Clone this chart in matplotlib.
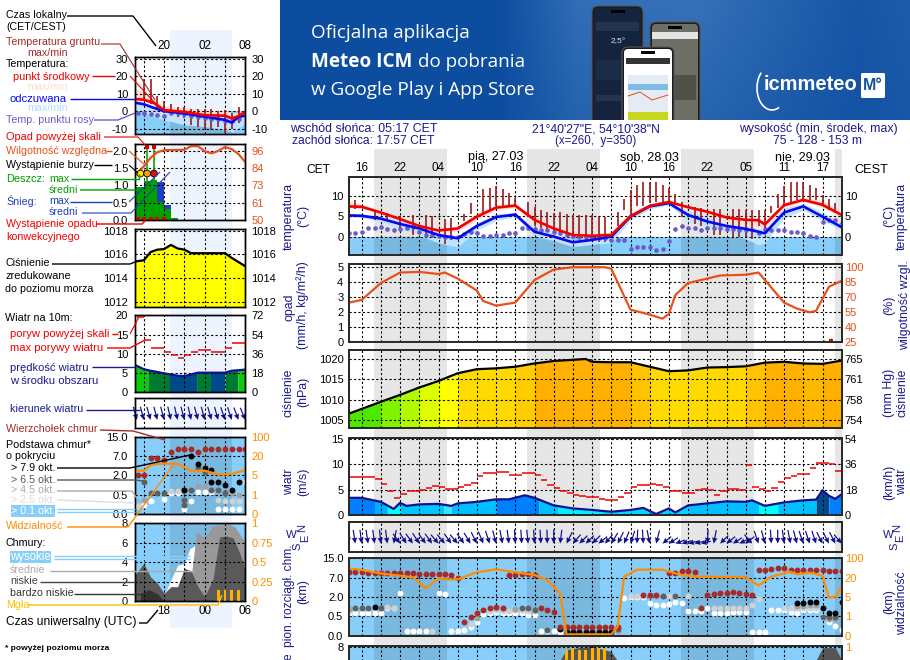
import numpy as np
import matplotlib
matplotlib.use('Agg')
import matplotlib.pyplot as plt
from matplotlib.patches import Rectangle, FancyBboxPatch

plt.rcParams['font.family'] = ['Liberation Sans', 'DejaVu Sans']

W, H = 910, 660
NAVY = '#1a1a8c'
SKY = '#87cffa'
RH_COL = '#e8501a'
VIS_COL = '#ff8c00'

# --- main meteogram, hours counted from the first label (16 CET) ---
hour_labels = ['16', '22', '04', '10', '16', '22', '04', '10', '16', '22', '05', '11', '17']
nights = [(1.92, 13.28), (25.8, 37.2), (49.9, 61.25), (73.95, 75)]

temp_t = [-2, 0, 3, 6, 9, 12, 15, 18, 21, 24, 27, 30, 33, 36, 39, 42, 45, 48, 51, 54, 57, 60, 62, 63, 66, 69, 72, 75]
temp_mid = [7.4, 7.3, 5.9, 4.3, 2.6, 1.5, 2, 4.9, 7.1, 7.6, 4.1, 2, .4, .2, .4, 5, 7.5, 8.5, 7.2, 6.1, 4.7, 4.1, 4, 3, 7.7, 9, 7.8, 5.3]
temp_hi = [8.6, 8, 6.4, 4.8, 3.1, 2, 2.6, 5.8, 7.9, 8.2, 4.9, 2.5, .9, .9, 1.1, 6, 8.2, 8.9, 7.7, 6.6, 5.2, 4.7, 4.7, 3.8, 8.4, 9.5, 8.8, 6]
temp_lo = [7, 6.9, 5.4, 3.9, 2.1, 1, 1.2, 4.1, 6.5, 7, 3.3, 1.5, -.1, -.6, -.4, 4, 6.9, 8, 6.6, 5.5, 3.7, 2.6, 2.2, 2.1, 7, 8.6, 7.2, 4.8]
feel_mid = [5.2, 5.1, 4.4, 3.1, 2, .4, -.4, 2.6, 4.8, 5.4, 1.2, 0, -1.4, -.8, 0, 4.9, 7.4, 8.2, 5.3, 3.7, 2.6, 1.9, 1.2, .8, 5.9, 7.4, 4.9, 2.3]
feel_hi = [5.6, 5.6, 5, 3.9, 2.6, 1, .2, 3.4, 5.6, 5.9, 2, .8, -.8, -.2, .6, 5.6, 8, 8.6, 6.4, 4.8, 3.2, 2.6, 2, 2, 7, 8.2, 6, 3.2]
feel_lo = [4.8, 4.7, 3.6, 1.8, .6, -1.6, -2.5, 1.6, 3.9, 4.9, 0, -1, -2.5, -2, -1.5, 4, 6.8, 7.8, 3.8, 2.5, 1.2, -.6, -2, -1.6, 4.5, 6.5, 3.9, 1.6]

ground_t = [-1, 2, 4, 6, 8, 10, 11, 13, 14, 16, 17, 19, 20, 21, 22, 23, 24, 26, 27, 28, 29, 30, 31, 32, 33, 34, 35, 36, 37, 38,
            40, 41, 42, 43, 44, 45, 46, 47, 48, 49, 50, 52, 53, 55, 56, 58, 59, 60, 61, 62, 63, 64, 65, 66, 67, 68, 69, 70, 71, 72, 73, 74]
ground_hi = [9, 6.5, 5.7, 5, 5.3, 5.3, 5, 4.3, 4.5, 5.5, 8.2, 11.6, 12, 12.3, 11.6, 10.7, 9.4, 8.6, 7.2, 6.6, 6.1, 5.7, 6.1, 5.6, 5.2, 5.2, 5.2, 5.2, 4.9, 4.9,
             6.1, 9.2, 11.5, 12.7, 13.4, 13.4, 13.4, 12.7, 11.9, 10.5, 8.6, 7.2, 7, 6.8, 6.8, 6.8, 6.7, 6.6, 6.4, 6.4, 6.6, 7.4, 10.5, 12.3, 13.4, 13.4, 13.4, 12.7, 11.9, 10.2, 9.2, 8.2]
ground_lo = [6.7, 4, 4, 1.6, .4, 0, -.4, -1.8, -.8, 3.9, 5.5, 5.3, 6.5, 7.5, 7.5, 7.5, 7.5, 5.3, 2.5, 2, 1.6, .8, .4, 0, 0, -.4, -.8, -1, -1.4, -1.2,
             2.5, 6.4, 4.9, 7.5, 7.5, 8.2, 8.4, 8.6, 8.4, 7.8, 4.9, 3.1, 2.5, .4, .4, -.2, 0, 0, -.7, 2.5, 1.2, 5.7, 7, 7.8, 8.2, 9, 9, 9, 9, 7.5, 6.6, 5.9]

dew_point = [.8, 1, 1.2, 2.2, 2, 2.3, 1.8, 1.6, 1.8, 2, 2.3, 1.2, .4, .4, .2, 0, -.2, 0, .6, 1.2, .8, .2, .2, .3, .4, .8, 1, 2, 2, 1.8, 1.6, 1.5, 1.2, .8, .4, .2, 0, 0, -.2,
             -.4, -.4, -.8, -.8, -.8, -3, -2.5, -2.5, -2.6, -3.3, -3, -1, 1.8, 2.5, 2.2, 2, 1.6, 2, 2.2, 2, 1.9, 1.9, 1.6, 1.6, 1.5, .8, 1.8, 1.6, 1.6, 1.5, 1.2, 1.2, .8, .2, -.2, 3.7, 4.1, 4.1, 3.3]

rh_t = [-2, 0, 3, 6, 9, 12, 13, 15, 18, 19, 21, 24, 27, 30, 33, 36, 38, 39, 42, 45, 47, 48, 49, 51, 54, 56, 60, 62, 66, 68, 70, 71, 73, 75]
rh_val = [64, 66.7, 83.5, 94, 94.6, 92.5, 94, 88, 76, 65.5, 61, 64, 86.5, 97, 99.3, 99.3, 99.3, 97.8, 57, 52, 48, 52.8, 71.5, 83.5, 88, 91, 91.8, 94, 64, 58, 54.3, 55.8, 79.8, 85.8]

press_t = [-2, 3, 6, 9, 12, 15, 18, 21, 24, 27, 30, 33, 35, 36, 39, 42, 45, 48, 51, 54, 57, 60, 63, 66, 69, 72, 75]
press_val = [1006.6, 1009.5, 1011.2, 1013, 1014.6, 1016.5, 1017.5, 1017.7, 1018.1, 1018.9, 1019.5, 1019.8, 1020, 1019.3, 1019.2, 1019.2, 1018.1, 1017, 1017.2, 1017.9, 1018, 1018.2, 1019.1, 1019.3, 1018.9, 1018.8, 1019.6]

wind_t = [-2, 0, 3, 5, 6, 7, 9, 12, 14, 15, 18, 21, 23, 25.5, 27, 30, 33, 36, 39, 42, 44, 46, 48, 49, 51, 54, 57, 60, 61, 63, 66, 69, 71, 72, 73, 74, 75]
wind_val = [3.4, 3.4, 2.6, 1.2, 2.4, 1.8, 2.1, 2.2, 1.8, 2.3, 2.6, 3.1, 3.1, 3.9, 3.4, 1.9, 1.3, 1, .65, 1, 1.4, .2, 1.3, .5, 1.9, 2.3, 2.7, 2.6, 2.9, 1.8, 2.5, 2.9, 3.05, 4.9, 3.8, 3.2, 4.1]
wind_edges = [-2, 2, 4, 6, 12.8, 14, 21, 27.7, 30.6, 37.5, 51, 62, 65, 71, 73, 75]
wind_cols = ['#0080ff', '#00b0ff', '#00ffff', '#00c8ff', '#40e0ff', '#00c0ff', '#0080ff', '#00c0ff', '#00f0ff', '#00d8ff', '#00c0ff', '#00ffff', '#00c0ff', '#004a8a', '#0080ff']
gust_val = [7.5, 7.5, 7.5, 7.5, 7.1, 6.2, 4.7, 3.4, 4.2, 4.8, 4.7, 5, 5.3, 5.7, 5.6, 5.2, 5.2, 5.6, 6, 6.4, 7.7, 8.4, 8.4, 8.5, 8.5, 7.9, 7.9, 8.3, 8.3, 7.9, 6.9, 6, 5.4, 4.8, 4.4, 4, 3.8, 3.6, 3.6,
            3.2, 2.9, 2.9, 3.5, 4.4, 5.5, 6, 6, 6.2, 6, 5.6, 4.7, 4.7, 4.4, 4.4, 5, 5.1, 5, 4, 4.8, 5.2, 5.2, 5, 9.9, 5.5, 5.2, 4.8, 5.3, 6.6, 7.3, 7.7, 8.1, 8.1, 9.3, 10.3, 10.3, 10, 8.7]
wind_dir = [350, 348, 350, 348, 350, 352, 350, 15, 315, 318, 315, 318, 315, 315, 310, 310, 315, 310, 315, 320, 325, 330, 335, 340, 345, 350, 355, 355, 352, 355, 355, 358, 0, 10, 35,
            50, 55, 55, 55, 60, 50, 40, 35, 30, 25, 5, 355, 345, 20, 60, 65, 75, 78, 80, 80, 80, 5, 15, 55, 60, 65, 70, 60, 310, 335, 340, 355, 0, 350, 345, 340, 335, 335, 335, 325, 325, 325, 310]

# cloud base dots, level = position on the stepped 0-0.5-2-7-15 km axis
top_t = list(range(-2, 16)) + list(range(16, 23)) + [23, 24, 25, 26, 27] + [28, 29, 30] + list(range(31, 41)) + [44, 45, 46] + [48, 49, 50, 51, 52, 53] + list(range(54, 62)) + list(range(62, 76))
top_lv = [3.31, 3.29, 3.27, 3.26, 3.22, 3.24, 3.24, 3.24, 3.24, 3.24, 3.24, 3.2, 3.19, 3.19, 3.19, 3.19, 3.16, 2.97,
          .72, .97, 1.17, 1.31, 1.41, 1.5, 1.45, 3.14, 3.16, 3.19, 3.19, 3.16, 1.41, 1.31, 1.24,
          .47, .47, .45, .43, .43, .43, .45, .45, .45, .45, 2.1, 2.1, 2.1, 3.22, 3.24, 3.34, 3.34, 3.29, 1.41,
          2.1, 2.15, 2.19, 2.19, 2.24, 2.19, 2.17, 2.1, 3.4, 3.4, 3.43, 3.48, 3.48, 3.41, 3.41, 3.41, 3.41, 3.38, 3.38, 3.34, 3.34, 3.34]
white_t = [-2, -1, 0, 1, 2, 3, 4, 5, 6, 7, 8, 9, 10, 12, 13, 14, 15, 16, 17, 18, 19, 20, 21, 22, 23, 24, 25, 26, 27, 28, 29, 30, 31,
           41, 42, 43, 44, 45, 46, 47, 48, 49, 50, 51, 52, 53, 54, 55, 56, 57, 58, 59, 60, 61, 62, 63, 64, 65, 66, 67, 68, 69, 70, 71, 72, 73, 74, 75]
white_lv = [1.19, 1.19, 1.19, 1.19, 1.19, 1.19, 1.45, 1.45, 2.2, .26, .26, .26, .26, 2.2, 2.17, .26, .26, .28, .43, .72, 1.1, 1.15, 1.2, 1.15, 1.15, 1.15, 1.15, 1.07, 1.07, .26, .26, .24, .2,
            1.97, 2.02, 2.02, 2.02, 1.71, 1.59, 1.59, 1.62, 1.76, 1.67, 1.28, 1.28, 1.3, 1.43, 1.15, 1.15, 1.17, 1.24, 1.24, 1.24, .17, .17, .17, 1.33, 1.33, 1.33, 1.24, 1.15, 1.33, 1.33, 1.33, .98, .72, .5, .29]
lgrey_t = [-2, 4, 5, 11, 17, 20, 21, 22, 23, 24, 25, 26, 27, 42, 43, 44, 48, 49, 51, 55, 56, 57, 58, 59, 60, 61, 62, 66, 67, 68, 69, 70, 71]
lgrey_lv = [1.3, 1.5, 1.45, .26, .6, 1.3, 1.35, 1.3, 1.3, 1.35, 1.35, 1.3, 1.3, 2.05, 2.05, 2.05, 2.05, 2.05, 2.05, 1.41, 1.41, 1.41, 1.41, 1.41, 1.41, 1.59, 1.88, 1.45, 1.45, 1.45, 1.45, 1.45, 1.45]
grey_t = [-2, 18, 21, 22, 24, 45, 46, 47, 68, 69, 70, 71, 73, 74, 40]
grey_lv = [1.4, .9, 1.41, 1.41, 1.38, 2.05, 2.05, 2.05, 1.55, 1.55, 1.6, 1.6, .85, .85, .22]
dark_t = [-1, 0, 1, 3, 25, 26, 27, 47, 49, 72, 73, 74, 29, 40]
dark_lv = [1.45, 1.41, 1.41, 1.41, 1.41, 1.41, 1.35, 2.05, 2.05, .98, .95, .95, .28, .35]
black_t = [2, 31, 32, 33, 34, 35, 36, 37, 38, 39, 68, 69, 70, 71, 72, 73, 74, 75]
black_lv = [1.47, .33, .2, .2, .2, .2, .2, .2, .2, .2, 1.67, 1.67, 1.76, 1.76, 1.41, 1.15, 1.15, 1.76]

vis_t = [-2, 0, 3, 6, 8, 10, 12, 13, 15, 16.5, 18, 21, 24, 27, 29, 31, 32, 39, 40, 41, 43, 47, 48, 50, 52, 60, 62, 64, 67, 68, 70, 72, 73, 74, 75]
vis_lv = [3.48, 3.4, 3.22, 3.1, 3.02, 2.45, 2.98, 2.91, 2.91, 3.1, 3.28, 3.43, 3.28, 3.14, 2.88, 2.19, .07, .07, .47, 3.05, 3.41, 3.41, 3.31, 3.14, 3.05, 3.02, 2.59, 3.05, 3.31, 3.17, 3.26, 3.1, 1.97, 2.02, 2.53]

low_t = [31, 32, 34, 36, 39, 40, 40.5]
low_cover = [6.6, 7.7, 7.9, 8, 7.5, 6.5, 0]
low2_t = [70.5, 71, 72, 74, 75]
low2_cover = [0, 6.6, 7.9, 7.9, 6.6]
fog_t = [32, 33, 34, 35, 36, 37, 38]
fog_h = [7.7, 7.9, 7.7, 7.7, 7.9, 7.9, 7.9]

# --- small meteogram, hours counted from its 20 label ---
sm_labels_top = ['20', '02', '08']
sm_labels_bot = ['18', '00', '06']
sm_night = (0.9, 10.1)
sm_t = [-4.3, -3, -1.5, 0, 3, 6, 9, 10, 11, 12]
sm_mid = [7, 6.6, 4.7, .6, -.4, -2.3, -2.6, -4.2, -2.8, -.4]
sm_hi = [13, 11.5, 7, 2.5, 2.5, .5, .5, -1, -1, .5]
sm_lo = [6, 5.5, 3.5, 0, -1, -3, -3.5, -5, -3.6, -1]
sm_feel = [4.9, 4, 1.9, 0, -1.3, -3.2, -5, -6.6, -3.2, -2.6]
sm_feel_hi = [5.5, 4.6, 2.5, .6, -.7, -2.5, -4, -5.5, -2.5, -2]
sm_feel_lo = [0, -1, -3, -5, -8, -9, -10.5, -12, -9.5, -7]
sm_ground_t = [-3, -2, -1, 0, 1, 2, 3, 4, 5, 6, 7, 8, 9, 10, 11]
sm_ground_hi = [18.5, 18.5, 9, 6, 4.3, 2.5, 2.5, 1.5, 1.5, 1.5, 1.5, 0, .5, -1.3, 2.5]
sm_ground_lo = [6, 4.3, 1.5, -1.3, -2.3, -3.2, -4.2, -8, -9, -10, -11, -9, -12.6, -10, -7]
sm_dew_t = [-3.9, -3, -2, -1, 0, 1, 2, 3, 4, 5, 6, 7, 8, 9, 10, 11]
sm_dew = [-1.3, -1.3, -1.9, -2.3, -2.8, -1.3, -1.3, -1.7, -2.8, -3.6, -4.2, -4.7, -4.7, -5.5, -5.5, -4.5]

sm_rain_t = [-4.3, -3, -2, -1, 0, 1]
sm_rain = [.95, 1.12, 1.15, .53, .33, .05]
sm_snow = [0, 0, 0, .57, .1, 0]
sm_storm_t = [-3.5, -2.5, -1.5]
sm_storm_col = ['#ffe000', '#ffa500', '#e01010']
sm_rain_max = [1.0, 2.1, 2.1]
sm_conv_t = [-3.9, -3, -2, -1, 0]
sm_rh_t = [-4.3, -3, -2, -1, 0, 3, 4, 5, 6, 7, 8, 9, 10, 11, 12]
sm_rh = [79.7, 85.5, 91.3, 94.9, 96.3, 96.6, 99, 99, 95.6, 94.2, 95.8, 98.5, 97, 93.7, 88.4]

sm_press_t = [-4.3, -3, -2, -1, 0, 1, 2, 3, 4, 6, 9, 10, 12]
sm_press = [1015.4, 1015.5, 1016.2, 1016.4, 1016.45, 1016.8, 1016.5, 1016.4, 1016.1, 1016.1, 1016.1, 1015.7, 1015]

sm_wind_t = [-4.3, -3, -2, -1, 0, 1, 2, 3, 4, 5, 9, 10, 12]
sm_wind = [7.1, 6, 5.6, 5.3, 4.9, 4.65, 4.3, 4.2, 4.65, 5.1, 5.1, 5.6, 5.9]
sm_wind_edges = [-4.3, -2.3, .8, 4.8, 6.9, 9, 10.9, 12]
sm_wind_cols = ['#10c810', '#007a30', '#004a8a', '#007a30', '#004a8a', '#007a30', '#10c810']
sm_gust_t = [-4, -3, -2, -1, 0, 1, 2, 3, 4, 5, 6, 7, 8, 9, 10, 11]
sm_gust = [19.7, 13.5, 11.6, 11.5, 10.6, 9.65, 8.8, 9.8, 10.6, 10.9, 10.9, 10.6, 10.6, 11.6, 12.8, 12.9]
sm_dir_t = [-4, -3, -2, -1, 0, 1, 2, 3, 4, 5, 6, 7, 8, 9, 10, 11, 12]
sm_dir = [338, 340, 338, 340, 340, 342, 342, 340, 342, 340, 340, 338, 338, 335, 335, 332, 330]

sm_top_t = [-3.9, -3, -2, -1, 0, 1, 2, 3, 4, 5, 6, 7, 8, 9, 10, 11, 12]
sm_top = [2, 2, 2.88, 2.88, 2.8, 3.22, 3.34, 3.34, 3.34, 3.22, 3.34, 3.34, 3.34, 3.34, 3.34, 3.34, 3.34]
sm_white_t = [-3, -2, 0, 1, 2, 3, 4, 5, 6, 7, 8, 9, 10, 11]
sm_white = [.47, .69, .78, 1.1, 1.1, .24, .69, 1.15, 1.15, 1.15, .24, .24, .24, .24]
sm_lgrey_t = [-3.9, 1, 2, 8, 9, 10, 11, 12]
sm_lgrey = [.41, 1.2, 1.2, .72, .69, .69, .69, 1.67]
sm_grey_t = [-3, 5, 6, 7, 10, 11]
sm_grey = [.7, 1.47, 1.47, 1.67, 1.07, .98]
sm_dark_t = [-3, -2, -1, 0, 3, 3, 3, 4, 5, 6, 7, 8, 9]
sm_dark = [1.67, 1.1, 1.1, 1.1, 1.24, .7, .47, 1.24, 2.36, 2.19, 1.24, 1.24, 1.1]
sm_black_t = [4, 5, 6, 7, 7, 8, 9, 10, 11, 3]
sm_black = [3, 2.57, 2.4, 2.28, 1.67, 1.67, 1.5, 1.24, 1.67, 1.24]
sm_vis_t = [-4.3, -3, -2, -1, 0, 2, 3, 4, 6, 8, 10, 12]
sm_vis = [2.24, 2.24, 2.53, 2.59, 2.6, 2.6, 2.41, 2.24, 2.24, 2.05, 2.07, 2.28]

cl_high_t = [.2, 1, 2, 3, 3.8, 4.8, 6, 6.8, 8, 10.2, 11, 12]
cl_high = [.9, 2.2, 3.7, 3.9, 5.4, 5.8, 5.9, 7.5, 7.7, 7.7, 6.6, 6]
cl_mid_t = [3, 3.3, 4, 4.8, 5.8, 6.3, 7, 9.2, 10.4, 12]
cl_mid = [0, 1.5, 2.5, 7.1, 6.6, 6.8, 7.7, 7.9, 7.7, 6]
cl_low_t = [-4.3, -3, -2, -1, 0, 1, 2, 3, 4, 5, 6, 7.2, 8.2, 9.2, 10.2, 11.2, 12]
cl_low = [2.7, 3.9, 2.5, 1.85, .8, 1.5, 1.5, 3.4, 3.1, 1.5, .5, 2.2, 6.6, 6.7, 6.5, 4.9, 3.2]
cl_vlow_t = [-3.5, -2.3, -1, 0]
cl_vlow = [.8, 1.2, .8, 0]
sm_fog_t = [8, 9, 10, 11]
sm_fog = [1.15, 1.15, 1.15, 1.15]

cloud_ticks = [0, 1, 2, 3, 4]
cloud_km = ['0.0', '0.5', '2.0', '7.0', '15.0']
vis_km = ['0', '1', '5', '20', '100']

fig = plt.figure(figsize=(W / 100, H / 100), dpi=100)
rend = fig.canvas.get_renderer()


def pixel_axes(z):
    ax = fig.add_axes([0, 0, 1, 1], zorder=z)
    ax.set_xlim(0, W)
    ax.set_ylim(H, 0)
    ax.axis('off')
    return ax


bg = pixel_axes(0)
over = pixel_axes(5)


def panel(box, xlim, xticks, ylim, yticks, ylabels, rlabels, rcolor='k', fs=8, main=True):
    x0, y0, x1, y1 = box
    ax = fig.add_axes([x0 / W, 1 - y1 / H, (x1 - x0) / W, (y1 - y0) / H], zorder=2)
    ax.patch.set_alpha(0)
    ax.set_xlim(xlim)
    ax.set_ylim(ylim)
    ax.set_xticks(xticks)
    ax.set_xticklabels([])
    ax.set_yticks(yticks)
    ax.set_yticklabels(ylabels, fontsize=fs)
    ax.tick_params(length=0, pad=4 if main else 5)
    ax.grid(color='k', lw=0.8, ls=(0, (2, 2)))
    ax.set_axisbelow(False)
    r = ax.twinx()
    r.patch.set_alpha(0)
    r.set_ylim(ylim)
    r.set_yticks(yticks)
    r.set_yticklabels(rlabels, fontsize=fs, color=rcolor)
    r.tick_params(length=0, pad=2.3 if main else 4.5)
    for a in (ax, r):
        for sp in a.spines.values():
            sp.set_linewidth(1.3 if main else 1)
            sp.set_color('#2a2a2a' if main else 'k')
    return ax


def night_overlay(ax, spans):
    for a, b in spans:
        ax.axvspan(a, b, color='k', alpha=0.1, lw=0, zorder=1)


def draw_temp(ax, t, mid, hi, lo, feel, fhi, flo, spans, gt, ghi, glo, dt, dew, ms):
    ymin = ax.get_ylim()[0]
    ax.axhspan(ymin, 0, color=SKY, lw=0, zorder=0.5)
    ax.fill_between(t, lo, hi, color='#ffdcd6', lw=0, zorder=0.7)
    ax.fill_between(t, flo, fhi, color='#bfe4fd', lw=0, zorder=0.8)
    under = ax.fill_between(t, ymin, np.minimum(flo, 0), facecolor='none', lw=0)
    for a, b in spans:
        s = ax.axvspan(a, b, color='k', alpha=0.1, lw=0, zorder=1)
        s.set_clip_path(under.get_paths()[0], ax.transData)
    ax.vlines(gt, glo, ghi, color='#a01818', lw=1.2, zorder=3)
    ax.scatter(dt, dew, s=ms, color='#6a5acd', lw=0, zorder=3)
    ax.plot(t, feel, color='#0808f0', lw=1.9, zorder=4)
    ax.plot(t, mid, color='#f00000', lw=1.9, zorder=4)


def press_colour(v):
    stops = [1006, 1010, 1013, 1015, 1016.7, 1017, 1018.3, 1019]
    rgb = [(30, 224, 0), (120, 240, 0), (200, 255, 0), (255, 255, 0), (255, 255, 0), (255, 220, 0), (255, 215, 0), (255, 176, 0)]
    return tuple(np.interp(v, stops, [c[i] for c in rgb]) / 255 for i in range(3))


def draw_segments(ax, t, v, colour, base):
    for i in range(len(t) - 1):
        ax.fill_between(t[i:i + 2], base, v[i:i + 2], color=colour((v[i] + v[i + 1]) / 2), lw=0, zorder=1)


def draw_bands(ax, t, v, edges, cols):
    # area under the wind curve, coloured in the vertical bands of the chart
    for i, c in enumerate(cols):
        a, b = edges[i], edges[i + 1]
        xs = [a] + [p for p in t if a < p < b] + [b]
        ax.fill_between(xs, 0, np.interp(xs, t, v), color=c, lw=0, zorder=1)


def draw_arrows(ax, t, deg, clip=True):
    d = np.radians(deg)
    q = ax.quiver(t, np.full(len(t), 0.27), -np.sin(d) * 10, -np.cos(d) * 14, angles='uv', scale_units='dots', scale=1,
                  units='dots', width=1.2, headwidth=4.6, headlength=5, headaxislength=4.5, pivot='tip', color='#10108c', zorder=3)
    q.set_clip_on(clip)


def draw_dots(ax, layers, s=18):
    for xs, ys, c in layers:
        ax.scatter(xs, ys, s=s, color=c, lw=0, zorder=3)


# --- page background, night bands ---
for a, b in nights:
    bg.add_patch(Rectangle((361.7 + a * 6.4, 149), (b - a) * 6.4, 511, color='#e6e6e6', lw=0))
bg.add_patch(Rectangle((170, 30), 61.7, 598, color='#eef4ff', lw=0))

# --- banner ---
bx = np.linspace(280, 910, 315)
by = np.linspace(0, 120, 60)
gx, gy = np.meshgrid(bx, by)
w = np.interp(gx, [280, 500, 580, 700, 790, 860, 910], [0, 0, .75, .8, .45, .2, .35]) * np.interp(gy, [0, 120], [1, .65])
img = np.dstack([13 + w * 50, 77 + w * 45, 160 + w * 30]) / 255
bg.imshow(img, extent=(280, 910, 120, 0), aspect='auto', zorder=1)
bg.set_xlim(0, W)
bg.set_ylim(H, 0)
clip = Rectangle((280, 0), 630, 120, transform=bg.transData)


def phone(x, y, w_, h, screen):
    p = FancyBboxPatch((x, y), w_, h, boxstyle='round,pad=0,rounding_size=6', fc='#1c1c1e', ec='#55555a', lw=0.8, zorder=2)
    bg.add_patch(p)
    p.set_clip_path(clip)
    s = FancyBboxPatch((x + 2, y + 2), w_ - 4, h - 4, boxstyle='round,pad=0,rounding_size=4', fc=screen, lw=0, zorder=2)
    bg.add_patch(s)
    s.set_clip_path(clip)
    bg.add_patch(Rectangle((x + w_ / 2 - 7, y + 3.5), 14, 3.5, color='#000000', lw=0, zorder=2))


phone(592, 6, 51, 130, '#15243e')
phone(650, 22, 50, 115, '#6d7066')
for (rx, ry, rw, rh_, c) in [(596, 22, 43, 9, '#24344f'), (652, 32, 46, 7, '#e4e4e4'), (655, 60, 12, 20, '#8b8f82'), (672, 75, 24, 25, '#4f5248'), (596, 60, 42, 20, '#1b2c48'), (596, 95, 42, 6, '#24344f')]:
    bg.add_patch(Rectangle((rx, ry), rw, rh_, color=c, lw=0, zorder=2))
bg.text(618, 42, '2,5°', color='#d8e2f0', fontsize=6, ha='center', va='center', zorder=3)
phone(622, 47, 52, 90, '#ffffff')
bg.add_patch(Rectangle((626, 58, ), 44, 6, color='#333333', lw=0, zorder=3))
bg.add_patch(Rectangle((628, 75), 40, 40, color='#e4ebf2', lw=0, zorder=3))
bg.add_patch(Rectangle((628, 112), 40, 8, color='#c8d820', lw=0, zorder=3))
bg.add_patch(Rectangle((628, 84), 40, 6, color='#7fbbe8', lw=0, zorder=3))
bg.plot([628, 640, 652, 668], [96, 92, 100, 95], color='#e05020', lw=0.7, zorder=3)

BF = ['Open Sans', 'DejaVu Sans']
bg.text(311, 33, 'Oficjalna aplikacja', color='w', fontsize=13.6, va='center', family=BF, zorder=3)
bg.text(311, 62, 'Meteo ICM', color='w', fontsize=13.6, va='center', family=BF, weight='bold', zorder=3)
bg.text(418, 62, 'do pobrania', color='w', fontsize=13.6, va='center', family=BF, zorder=3)
bg.text(311, 90, 'w Google Play i App Store', color='w', fontsize=13.6, va='center', family=BF, zorder=3)
bg.text(764, 85, 'icmmeteo', color='w', fontsize=14.5, va='center', weight='bold', zorder=3)
bg.add_patch(FancyBboxPatch((861, 73), 24, 25, boxstyle='round,pad=0,rounding_size=1.5', fc='w', lw=0, zorder=3))
bg.text(873, 86, 'M°', color='#14509f', fontsize=11.5, ha='center', va='center', weight='bold', zorder=4)
bg.add_patch(matplotlib.patches.Arc((772, 88), 30, 44, theta1=70, theta2=235, color='w', lw=1.2, zorder=3))

# --- main meteogram panels ---
XM = (-2, 75)
TM = list(range(-0, 76, 3))
left, right = 348.9, 841.7

ax = panel((left, 177, right, 255), XM, TM, (-4.5, 14.6), [0, 5, 10], ['0', '5', '10'], ['0', '5', '10'])
draw_temp(ax, temp_t, temp_mid, temp_hi, temp_lo, feel_mid, feel_hi, feel_lo, nights, ground_t, ground_hi, ground_lo,
          np.arange(-2, -2 + len(dew_point)), dew_point, 11)
ax.tick_params(axis='x', labeltop=True, labelbottom=False, top=False, bottom=False, pad=2)
ax.set_xticklabels([hour_labels[i // 6] if i % 6 == 0 else '' for i in TM], fontsize=8.4)

ax = panel((left, 264, right, 341.7), XM, TM, (25, 102.5), [25, 40, 55, 70, 85, 100], ['0', '1', '2', '3', '4', '5'],
           ['25', '40', '55', '70', '85', '100'], RH_COL)
ax.plot(rh_t, rh_val, color=RH_COL, lw=1.6, zorder=3)
ax.axhline(25.4, color='#208020', lw=0.8, zorder=3)
ax.vlines([72.3, 73.4, 74.4], 25, [27, 28.5, 26], color='#10a010', lw=1, zorder=3)
ax.scatter([73.4], [25.6], s=8, marker='s', color='#e00000', lw=0, zorder=4, clip_on=False)

ax = panel((left, 350, right, 428.3), XM, TM, (1003, 1022.2), [1005, 1010, 1015, 1020], ['1005', '1010', '1015', '1020'],
           ['754', '758', '761', '765'])
draw_segments(ax, press_t, press_val, press_colour, 1003)
ax.plot(press_t, press_val, color='k', lw=1.6, zorder=3)

ax = panel((left, 437.7, right, 515), XM, TM, (0, 15.3), [0, 5, 10, 15], ['0', '5', '10', '15'], ['0', '18', '36', '54'])
draw_bands(ax, wind_t, wind_val, wind_edges, wind_cols)
ax.plot(wind_t, wind_val, color='#101090', lw=1.6, zorder=3)
gt = np.arange(-2, -2 + len(gust_val))
ax.hlines(gust_val, gt, gt + 1, color='#f00000', lw=1.1, zorder=3)

ax = panel((left, 521.7, right, 551.7), XM, TM, (0, 1), [], [], [])
draw_arrows(ax, np.arange(-2, -2 + len(wind_dir)), wind_dir)

ax = panel((left, 558.3, right, 635.7), XM, TM, (0, 4), cloud_ticks, cloud_km, vis_km, VIS_COL)
ax.patch.set_alpha(1)
ax.patch.set_facecolor(SKY)
night_overlay(ax, nights)
draw_dots(ax, [(white_t, white_lv, 'w'), (lgrey_t, lgrey_lv, '#d0d0d0'), (grey_t, grey_lv, '#a0a0a0'), (dark_t, dark_lv, '#606060'),
               (black_t, black_lv, 'k'), (top_t, top_lv, '#a52a2a')])
ax.plot(vis_t, vis_lv, color=VIS_COL, lw=1.6, zorder=4)

# the lower part of this panel runs off the page, only its top tick shows
ax = panel((left, 645.7, right, 724), XM, TM, (0, 8.1), [8], ['8'], ['1'], VIS_COL)
ax.patch.set_alpha(1)
ax.patch.set_facecolor(SKY)
night_overlay(ax, nights)
ax.fill_between(low_t, 0, low_cover, color='#555555', lw=0, zorder=1.5)
ax.fill_between(low2_t, 0, low2_cover, color='#555555', lw=0, zorder=1.5)
ax.bar(fog_t, fog_h, width=0.45, color='#ffb000', lw=0, zorder=3)

# --- small meteogram panels ---
XS = (-4.3, 12)
TS = list(range(-3, 13, 3))
sl, sr = 135, 245.3
sn = [sm_night]

ax = panel((sl, 57.3, sr, 134.3), XS, TS, (-13.3, 31), [-10, 0, 10, 20, 30], ['-10', '0', '10', '20', '30'], ['-10', '0', '10', '20', '30'], main=False)
draw_temp(ax, sm_t, sm_mid, sm_hi, sm_lo, sm_feel, sm_feel_hi, sm_feel_lo, sn, sm_ground_t, sm_ground_hi, sm_ground_lo, sm_dew_t, sm_dew, 11)
ax.tick_params(axis='x', labeltop=True, labelbottom=False, top=False, bottom=False, pad=3.5)
ax.set_xticklabels(['', sm_labels_top[0], '', sm_labels_top[1], '', sm_labels_top[2]], fontsize=8.4)

ax = panel((sl, 143.7, sr, 220), XS, TS, (0, 2.2), [0, .5, 1, 1.5, 2], ['0.0', '0.5', '1.0', '1.5', '2.0'], ['50', '61', '73', '84', '96'], RH_COL, main=False)
widths = np.diff(sm_rain_t + [2])
ax.bar(sm_rain_t, sm_rain, width=widths, align='edge', color='#00a000', lw=0, zorder=1)
ax.bar(sm_rain_t, sm_snow, width=widths, bottom=sm_rain, align='edge', color='#1f3fc0', lw=0, zorder=1)
ax.vlines(sm_storm_t, 1.0, sm_rain_max, color='#10a010', lw=1.2, zorder=3)
ax.scatter(sm_storm_t[1:], sm_rain_max[1:], s=12, marker='s', color='#e00000', lw=0, zorder=4)
ax.scatter(sm_storm_t, [1.34] * 3, s=24, c=sm_storm_col, edgecolors='k', lw=0.6, zorder=5)
ax.scatter(sm_conv_t, [0.02] * 5, s=10, marker='s', color='#e00000', lw=0, zorder=5)
ax.plot(sm_rh_t, (np.array(sm_rh) - 50) / 23, color=RH_COL, lw=1.6, zorder=4)

ax = panel((sl, 229.3, sr, 306.7), XS, TS, (1011.58, 1018.12), [1012, 1014, 1016, 1018], ['1012', '1014', '1016', '1018'], ['1012', '1014', '1016', '1018'], main=False)
draw_segments(ax, sm_press_t, sm_press, press_colour, 1011.58)
ax.plot(sm_press_t, sm_press, color='k', lw=1.6, zorder=3)

ax = panel((sl, 315, sr, 392.3), XS, TS, (0, 20.1), [0, 5, 10, 15, 20], ['0', '5', '10', '15', '20'], ['0', '18', '36', '54', '72'], main=False)
draw_bands(ax, sm_wind_t, sm_wind, sm_wind_edges, sm_wind_cols)
ax.plot(sm_wind_t, sm_wind, color='#101090', lw=1.6, zorder=3)
ax.hlines(sm_gust, sm_gust_t, np.array(sm_gust_t) + 1, color='#f00000', lw=1.1, zorder=3)

ax = panel((sl, 398, sr, 428), XS, TS, (0, 1), [], [], [], main=False)
draw_arrows(ax, sm_dir_t, sm_dir, clip=False)

ax = panel((sl, 436.7, sr, 514), XS, TS, (0, 4), cloud_ticks, cloud_km, vis_km, VIS_COL, main=False)
ax.patch.set_alpha(1)
ax.patch.set_facecolor(SKY)
night_overlay(ax, sn)
draw_dots(ax, [(sm_white_t, sm_white, 'w'), (sm_lgrey_t, sm_lgrey, '#d0d0d0'), (sm_grey_t, sm_grey, '#a0a0a0'), (sm_dark_t, sm_dark, '#606060'),
               (sm_black_t, sm_black, 'k'), (sm_top_t, sm_top, '#a52a2a')])
ax.plot(sm_vis_t, sm_vis, color=VIS_COL, lw=1.6, zorder=4)

ax = panel((sl, 523.3, sr, 601.3), XS, TS, (0, 8), [0, 2, 4, 6, 8], ['0', '2', '4', '6', '8'], ['0', '0.25', '0.5', '0.75', '1'], VIS_COL, main=False)
ax.patch.set_alpha(1)
ax.patch.set_facecolor(SKY)
night_overlay(ax, sn)
ax.fill_between(cl_high_t, 0, cl_high, color='w', lw=0, zorder=1.2)
ax.fill_between(cl_mid_t, 0, cl_mid, color='#999999', lw=0, zorder=1.3)
ax.fill_between(cl_low_t, 0, cl_low, color='#5a5a5a', lw=0, zorder=1.4)
ax.fill_between(cl_vlow_t, 0, cl_vlow, color='#333333', lw=0, zorder=1.5)
ax.bar(sm_fog_t, sm_fog, width=0.4, color='#ffb000', lw=0, zorder=3)
ax.tick_params(axis='x', labelbottom=True, pad=3)
ax.set_xticklabels(['', sm_labels_bot[0], '', sm_labels_bot[1], '', sm_labels_bot[2]], fontsize=8.4)


# --- texts ---
def fit(x0, x1, y, s, c='k', lo=7.7, **kw):
    # the reference is hinted and spaced unevenly, so each text is sized to its measured width
    t = over.text(x0, y, s, color=c, va='center', fontsize=10, **kw)
    t.set_fontsize(max(lo, 10 * (x1 - x0) / t.get_window_extent(rend).width))


def txt(x, y, s, c='k', ha='left', fs=8.3, **kw):
    over.text(x, y, s, color=c, ha=ha, va='center', fontsize=fs, **kw)


for x0, x1, y, s in [(290, 437, 129, 'wschód słońca: 05:17 CET'), (292, 435, 141, 'zachód słońca: 17:57 CET'),
                     (531.7, 659.3, 129, '21°40\'27"E, 54°10\'38"N'), (555, 636, 141, '(x=260,  y=350)'),
                     (739, 897, 129, 'wysokość (min, środek, max)'), (773, 862, 141, '75 - 128 - 153 m')]:
    fit(x0, x1, y, s, NAVY)
for x0, x1, s in [(467.7, 523.3, 'pią, 27.03'), (620, 679, 'sob, 28.03'), (775, 830, 'nie, 29.03')]:
    fit(x0, x1, 157, s)
fit(306.7, 330.7, 170, 'CET')
fit(854, 888, 170, 'CEST')

for x, y, s in [(289, 216, 'temperatura'), (303, 216, '(°C)'), (290, 307, 'opad'), (303, 305, '(mm/h, kg/m²/h)'),
                (289, 393, 'ciśnienie'), (303, 392, '(hPa)'), (289, 482, 'wiatr'), (303, 482, '(m/s)'), (303, 592, '(km)'),
                (902, 216, 'temperatura'), (889, 216, '(°C)'), (905, 305, 'wilgotność wzgl.'), (889, 305, '(%)'),
                (902, 393, 'ciśnienie'), (889, 393, '(mm Hg)'), (902, 482, 'wiatr'), (889, 482, '(km/h)'),
                (902, 603, 'widzialność'), (889, 602, '(km)')]:
    txt(x, y, s, NAVY, ha='center', fs=8.9, rotation=90)
over.text(289, 659.5, 'e  pion. rozciągł. chm.', color=NAVY, rotation=90, ha='center', va='bottom', fontsize=8.6)
for xw, xn, xe, xs in [(291, 302.5, 305.5, 297.5), (888, 897.5, 900, 894.5)]:
    txt(xw, 535, 'W', NAVY, ha='center', fs=8.2)
    txt(xn, 527.5, 'N', NAVY, ha='center', fs=8, rotation=90)
    txt(xe, 538, 'E', NAVY, ha='center', fs=8, rotation=90)
    txt(xs, 546, 'S', NAVY, ha='center', fs=8, rotation=90)


def lead(c, *pts, lw=1.0):
    xs, ys = zip(*pts)
    over.plot(xs, ys, color=c, lw=lw, solid_capstyle='butt', clip_on=False)


BROWN = '#a52a2a'
GREEN = '#00a000'
BLUE = '#1f3fc0'
RED = '#f00000'
items = [
    (6, 65, 15, 'Czas lokalny', 'k'), (6, 61, 26.5, '(CET/CEST)', 'k'),
    (6, 99, 42, 'Temperatura gruntu', BROWN), (27, 66, 52.5, 'max/min', BROWN), (6, 67, 64, 'Temperatura:', 'k'),
    (13, 90, 76.5, 'punkt środkowy', RED), (27, 66, 87, 'max/min', '#ffdcd0'), (10, 67, 98.5, 'odczuwana', '#0808f0'),
    (27, 66, 108, 'max/min', '#aaddff'), (6, 93, 120, 'Temp. punktu rosy', '#6a5acd'), (6, 101, 137.5, 'Opad powyżej skali', RED),
    (6, 103, 151, 'Wilgotność względna', RH_COL), (6, 91, 165, 'Wystąpienie burzy', 'k'), (6, 45, 179, 'Deszcz:', GREEN), (49, 69, 179, 'max', GREEN),
    (49, 78, 190, 'średni', GREEN), (6, 36, 201, 'Śnieg:', BLUE), (49, 68, 201, 'max', BLUE), (49, 78, 212, 'średni', BLUE),
    (6, 94, 224, 'Wystąpienie opadu', RED), (6, 77, 237, 'konwekcyjnego', RED),
    (5, 47, 263, 'Ciśnienie', 'k'), (5, 71, 276, 'zredukowane', 'k'), (5, 92, 289, 'do poziomu morza', 'k'),
    (5, 72, 318, 'Wiatr na 10m:', 'k'), (10, 110, 334, 'poryw powyżej skali', RED), (10, 104, 348, 'max porywy wiatru', RED),
    (10, 88, 368, 'prędkość wiatru', NAVY), (10, 98, 381, 'w środku obszaru', NAVY), (10, 83, 409, 'kierunek wiatru', NAVY),
    (6, 97, 429, 'Wierzchołek chmur', BROWN), (6, 91, 444.5, 'Podstawa chmur*', 'k'), (6, 54, 456, 'o pokryciu', 'k'),
    (11, 54, 468, '> 7.9 okt.', 'k'), (11, 54, 480, '> 6.5 okt.', '#555555'), (11, 54, 490, '> 4.5 okt.', '#aaaaaa'), (11, 54, 500, '> 2.5 okt.', '#dddddd'),
    (6, 63, 526, 'Widzialność', VIS_COL), (6, 45, 543, 'Chmury:', 'k'), (10, 45, 570, 'średnie', '#aaaaaa'), (10, 36, 581, 'niskie', '#444444'),
    (10, 71, 593, 'bardzo niskie', '#333333'), (6, 26, 605, 'Mgła', '#ffc000'), (6, 137, 622, 'Czas uniwersalny (UTC)', 'k'),
]
for x0, x1, y, s, c in items:
    fit(x0, x1, y, s, c)
over.add_patch(Rectangle((11, 505), 44, 12, color=SKY, lw=0))
fit(11, 54, 511, '> 0.1 okt.', 'w')
over.add_patch(Rectangle((10, 551), 41, 12, color=SKY, lw=0))
fit(10, 51, 557, 'wysokie', 'w')
fit(5, 108, 648, '* powyżej poziomu morza', 'k', lo=6, weight='bold')

lead('k', (67, 16), (133, 16), (156, 46))
lead(BROWN, (101, 44), (120, 44), (155, 100), lw=0.8)
lead(RED, (92, 76), (115, 76))
lead(RED, (130, 76), (155, 103), lw=0.8)
lead('#0808f0', (70, 99), (135, 99))
lead('#6a5acd', (94, 120), (118, 120), (135, 113))
lead(RED, (104, 137), (138, 137), (146, 146), lw=0.8)
lead(RH_COL, (106, 151), (112, 151))
lead(RH_COL, (129, 151), (145, 165), lw=0.8)
lead('k', (94, 165), (112, 165))
lead('k', (129, 165), (138, 173), lw=0.8)
lead(GREEN, (71, 179), (139, 179), (139, 174))
lead(GREEN, (80, 190), (146, 190), (150, 182))
lead(BLUE, (70, 202), (112, 202))
lead(BLUE, (129, 202), (160, 172), lw=0.8)
lead(BLUE, (82, 213), (131, 213), (170, 172), lw=0.8)
lead(RED, (96, 224), (142, 224), (146, 220))
lead('k', (52, 264), (130, 264), (135, 262))
lead(RED, (112, 334), (118, 334))
lead(RED, (130, 334), (139, 317), lw=0.8)
lead(RED, (107, 348), (130, 348), (145, 340))
lead(NAVY, (92, 367), (135, 367))
lead(NAVY, (86, 410), (140, 410))
lead(BROWN, (100, 430), (133, 431), (165, 440))
lead('k', (57, 468), (130, 468), (190, 455))
lead('#555555', (57, 480), (135, 480), (143, 481))
lead('#aaaaaa', (57, 491), (132, 491), (140, 503))
lead('#dddddd', (57, 500), (135, 503))
lead(SKY, (57, 509), (135, 509))
lead(SKY, (57, 512), (135, 512))
lead(VIS_COL, (67, 527), (128, 527), (173, 465))
lead(SKY, (54, 556), (190, 556))
lead(SKY, (54, 559), (190, 559))
lead('#aaaaaa', (50, 571), (195, 571))
lead('#444444', (40, 582), (135, 582))
lead('#333333', (74, 594), (145, 594))
lead('#ffc000', (28, 605), (218, 605), (222, 595))
lead('k', (139, 623), (147, 623), (158, 610))

fig.savefig('out.png', dpi=100)
